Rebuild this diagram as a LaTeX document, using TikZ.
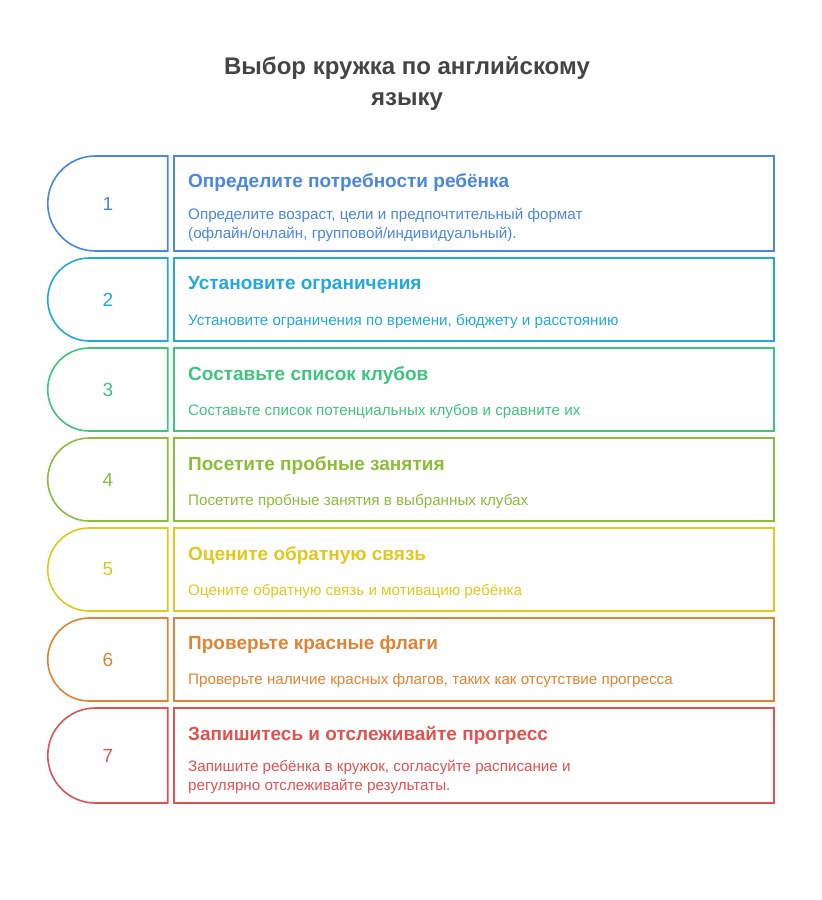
\documentclass[tikz,border=0pt]{standalone}
\usepackage{fontspec}
\setmainfont{Liberation Sans}
\usepackage{tikz}
\usetikzlibrary{positioning,shapes.misc}
\usepackage{xcolor}

\definecolor{cA}{HTML}{4A86E0}
\definecolor{cB}{HTML}{21A9D9}
\definecolor{cC}{HTML}{3DC47E}
\definecolor{cD}{HTML}{8DBB3A}
\definecolor{cE}{HTML}{E2C81A}
\definecolor{cF}{HTML}{E08434}
\definecolor{cG}{HTML}{E05252}
\definecolor{titlegray}{HTML}{444444}

\tikzset{
    tabnum/.style={rounded rectangle, rounded rectangle right arc=none, line width=1.6pt,
        minimum width=120pt, inner sep=0pt, font=\fontsize{19}{21}\selectfont},
    stepframe/.style={rectangle, line width=1.6pt, minimum width=600pt, inner sep=0pt},
    headtext/.style={anchor=west, inner sep=0pt, font=\fontsize{19}{22}\selectfont\bfseries},
    desctext/.style={anchor=west, inner sep=0pt, align=left, font=\fontsize{15.2}{19}\selectfont}
}

\begin{document}
\begin{tikzpicture}[x=1pt, y=-1pt]
            \useasboundingbox (0,0) rectangle (822,900);
            % Title
            \node[align=center, text=titlegray, font=\fontsize{24}{31}\selectfont\bfseries] (title) at (407,84)
                {Выбор кружка по английскому\\языку};

            % Rows: number tab on the left, framed step on the right
            \foreach \k/\ytop/\h/\col/\head/\desc in {
                1/156/95/cA/{Определите потребности ребёнка}/{Определите возраст, цели и предпочтительный формат\\(офлайн/онлайн, групповой/индивидуальный).},
                2/258/83/cB/{Установите ограничения}/{Установите ограничения по времени, бюджету и расстоянию},
                3/348/83/cC/{Составьте список клубов}/{Составьте список потенциальных клубов и сравните их},
                4/438/83/cD/{Посетите пробные занятия}/{Посетите пробные занятия в выбранных клубах},
                5/528/83/cE/{Оцените обратную связь}/{Оцените обратную связь и мотивацию ребёнка},
                6/618/83/cF/{Проверьте красные флаги}/{Проверьте наличие красных флагов, таких как отсутствие прогресса},
                7/708/95/cG/{Запишитесь и отслеживайте прогресс}/{Запишите ребёнка в кружок, согласуйте расписание и\\регулярно отслеживайте результаты.}} {
                \node[tabnum, draw=\col, text=\col, minimum height=\h pt] (tab\k) at (108,{\ytop+\h/2}) {\k};
                \node[stepframe, draw=\col, minimum height=\h pt] (box\k) at (474,{\ytop+\h/2}) {};
                \node[headtext, text=\col] (head\k) at (188,{\ytop+27}) {\head};
                \node[desctext, text=\col] (desc\k) at (188,{\ytop+\h/2+21.5}) {\desc};
            }
        \end{tikzpicture}
\end{document}
